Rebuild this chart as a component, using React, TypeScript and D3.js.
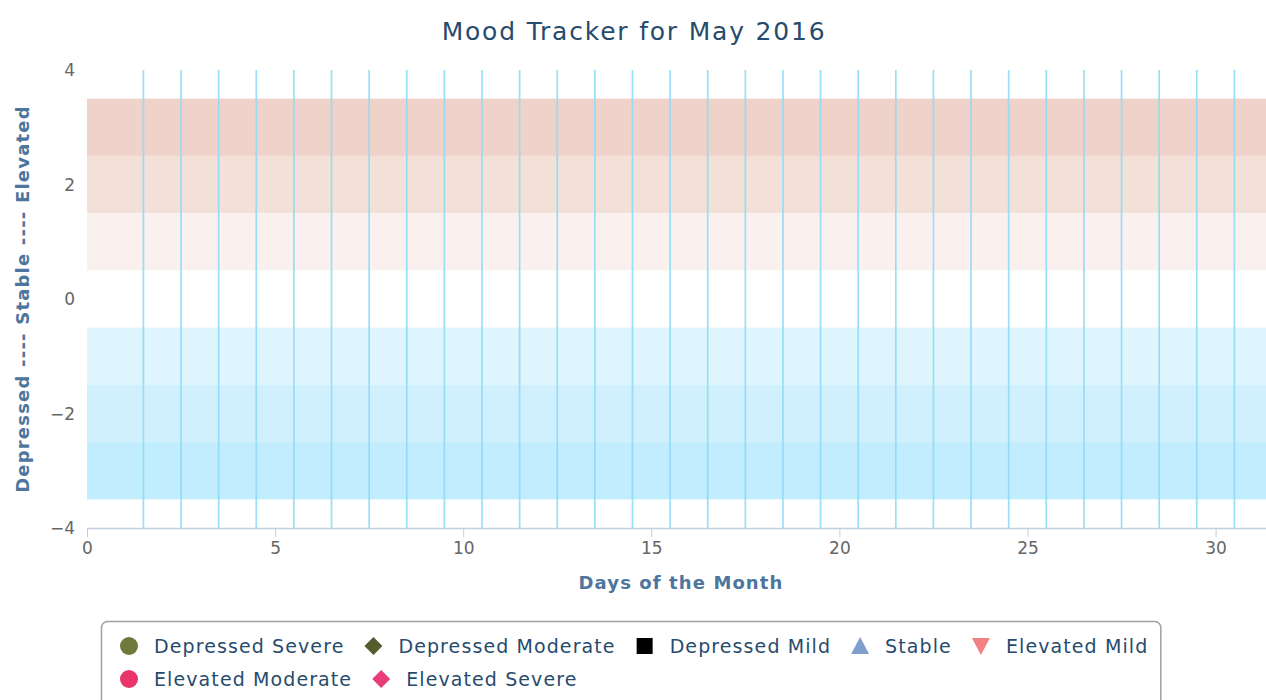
import React, { useEffect, useRef } from 'react';
import * as d3 from 'd3';

const chartTitle = 'Mood Tracker for May 2016';
const xTitle = 'Days of the Month';
const yTitle = 'Depressed ---- Stable ---- Elevated';

const xTicks = [0, 5, 10, 15, 20, 25, 30];
const yTicks = [4, 2, 0, -2, -4];

// mood bands (from, to, colour)
const bandFrom = [2.5, 1.5, 0.5, -1.5, -2.5, -3.5];
const bandTo = [3.5, 2.5, 1.5, -0.5, -1.5, -2.5];
const bandColors = ['#efd3ca', '#f3e0d8', '#faf1ee', '#def5fd', '#d1f0fd', '#c1edfe'];

// day dividers
const dayLines = [1.5, 2.5, 3.5, 4.5, 5.5, 6.5, 7.5, 8.5, 9.5, 10.5, 11.5, 12.5, 13.5, 14.5, 15.5,
  16.5, 17.5, 18.5, 19.5, 20.5, 21.5, 22.5, 23.5, 24.5, 25.5, 26.5, 27.5, 28.5, 29.5, 30.5];

const seriesNames = ['Depressed Severe', 'Depressed Moderate', 'Depressed Mild', 'Stable',
  'Elevated Mild', 'Elevated Moderate', 'Elevated Severe'];
const seriesSymbols = ['circle', 'diamond', 'square', 'triangle', 'triangle-down', 'circle', 'diamond'];
const seriesColors = ['#6e7a3c', '#565b30', '#000000', '#809fcc', '#f28282', '#e8336b', '#e83c7b'];

const W = 1266;
const H = 700;
const FONT = '"DejaVu Sans", "Open Sans", sans-serif';

export default function App() {
  const ref = useRef<SVGSVGElement>(null);

  useEffect(() => {
    const svg = d3.select(ref.current);
    svg.selectAll('*').remove();

    const x = d3.scaleLinear().domain([0, 31.34]).range([87, 1266]);
    const y = d3.scaleLinear().domain([-4, 4]).range([528, 70]);

    // title
    svg.append('text')
      .attr('x', 634).attr('y', 40)
      .attr('text-anchor', 'middle')
      .style('font-family', FONT).style('font-size', '25px').style('letter-spacing', '1.8px')
      .attr('fill', '#274b6d')
      .text(chartTitle);

    // bands
    svg.append('g').selectAll('rect').data(bandFrom)
      .join('rect')
      .attr('x', x(0))
      .attr('width', x(31.34) - x(0))
      .attr('y', (d, i) => y(bandTo[i]))
      .attr('height', (d, i) => y(d) - y(bandTo[i]))
      .attr('fill', (d, i) => bandColors[i]);

    // day plot lines
    svg.append('g').selectAll('line').data(dayLines)
      .join('line')
      .attr('x1', d => x(d)).attr('x2', d => x(d))
      .attr('y1', y(4)).attr('y2', y(-4))
      .attr('stroke', '#8fdcf8').attr('stroke-width', 1.7)
      .attr('opacity', 0.9);

    // x axis
    const xAxis = svg.append('g').attr('transform', `translate(0,${y(-4)})`)
      .call(d3.axisBottom(x).tickValues(xTicks).tickSize(9).tickPadding(5).tickFormat(d3.format('d')));
    xAxis.select('.domain').attr('stroke', '#c0d0e0').attr('stroke-width', 1.5).attr('d', `M${x(0)},0.5H1266`);
    xAxis.selectAll('.tick line').attr('stroke', '#c0d0e0');
    xAxis.selectAll('.tick text')
      .style('font-family', FONT).style('font-size', '17px').attr('fill', '#666666');

    // y axis labels
    svg.append('g').selectAll('text').data(yTicks)
      .join('text')
      .attr('x', 75).attr('y', d => y(d) + 6)
      .attr('text-anchor', 'end')
      .style('font-family', FONT).style('font-size', '17px')
      .attr('fill', '#666666')
      .text(d => (d < 0 ? '\u2212' + Math.abs(d) : String(d)));

    // axis titles
    svg.append('text')
      .attr('x', 681).attr('y', 589)
      .attr('text-anchor', 'middle')
      .style('font-family', FONT)
      .style('font-size', '18px').style('font-weight', 'bold').style('letter-spacing', '1.1px')
      .attr('fill', '#4d759e')
      .text(xTitle);

    svg.append('text')
      .attr('transform', `translate(29,${y(0)}) rotate(-90)`)
      .attr('text-anchor', 'middle')
      .style('font-family', FONT)
      .style('font-size', '18px').style('font-weight', 'bold').style('letter-spacing', '1.2px')
      .attr('fill', '#4d759e')
      .text(yTitle);

    // legend
    const legend = svg.append('g');
    const box = legend.append('rect')
      .attr('x', 101.5).attr('y', 621.5).attr('rx', 6)
      .attr('fill', 'white').attr('stroke', '#a0a0a0').attr('stroke-width', 1.5);

    const left = 129;
    const maxRight = 1153;
    let cx = left;
    let row = 0;
    let widest = 0;
    seriesNames.forEach((name, i) => {
      const g = legend.append('g');
      const t = g.append('text')
        .attr('y', 7)
        .style('font-family', FONT).style('font-size', '19px').style('letter-spacing', '1.1px')
        .attr('fill', '#274b6d')
        .text(name);
      const tw = (t.node() as SVGTextElement).getComputedTextLength();
      if (cx + 25 + tw > maxRight + 8 && cx !== left) {
        row += 1;
        cx = left;
      }
      const cy = 646 + row * 33;
      g.attr('transform', `translate(${cx},${cy})`);
      t.attr('x', 25);
      const sym = seriesSymbols[i];
      const col = seriesColors[i];
      if (sym === 'circle') {
        g.append('circle').attr('r', 9).attr('fill', col);
      } else if (sym === 'diamond') {
        g.append('path').attr('d', 'M0,-9L9,0L0,9L-9,0Z').attr('fill', col);
      } else if (sym === 'square') {
        g.append('rect').attr('x', -8).attr('y', -8).attr('width', 16).attr('height', 16).attr('fill', col);
      } else if (sym === 'triangle') {
        g.append('path').attr('d', 'M0,-9L9,8L-9,8Z').attr('fill', col);
      } else {
        g.append('path').attr('d', 'M-9,-8L9,-8L0,9Z').attr('fill', col);
      }
      widest = Math.max(widest, cx + 25 + tw);
      cx = cx + 25 + tw + 29;
    });
    box.attr('width', widest + 12 - 101).attr('height', 100);
  }, []);

  return (
    <div style={{ position: 'absolute', left: 0, top: 0 }}>
      <svg ref={ref} width={W} height={H} style={{ display: 'block', background: 'white' }} />
    </div>
  );
}
